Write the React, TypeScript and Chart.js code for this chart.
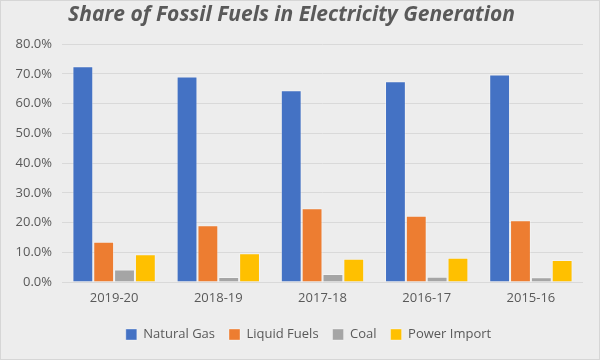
import React, { useEffect, useRef } from "react";
import { Chart, registerables } from "chart.js";

Chart.register(...registerables);

const categories = ["2019-20", "2018-19", "2017-18", "2016-17", "2015-16"];
const naturalGas = [72.6, 69.1, 64.5, 67.5, 69.8];
const liquidFuels = [13.5, 19.1, 24.8, 22.3, 20.8];
const coal = [4.2, 1.7, 2.7, 1.8, 1.6];
const powerImport = [9.3, 9.7, 7.8, 8.2, 7.4];
const seriesNames = ["Natural Gas", "Liquid Fuels", "Coal", "Power Import"];
const seriesColors = ["#4472C4", "#ED7D31", "#A5A5A5", "#FFC000"];
const titleText = "Share of Fossil Fuels in Electricity Generation";

const bgPlugin = {
  id: "bg",
  beforeDraw(chart: any) {
    const { ctx, width, height } = chart;
    ctx.save();
    ctx.fillStyle = "#EDEDED";
    ctx.fillRect(0, 0, width, height);
    ctx.strokeStyle = "#D6D6D6";
    ctx.lineWidth = 1;
    ctx.strokeRect(0.5, 0.5, width - 1, height - 1);
    ctx.restore();
  },
};

const legendShift = {
  id: "legendShift",
  afterLayout(chart: any) {
    const lg = chart.legend;
    if (lg) {
      lg.left += 17;
      lg.right += 17;
    }
  },
};

export default function App() {
  const ref = useRef<HTMLCanvasElement>(null);
  useEffect(() => {
    document.body.style.margin = "0";
    const font = "'Open Sans', sans-serif";
    const values = [naturalGas, liquidFuels, coal, powerImport];
    const chart = new Chart(ref.current!, {
      type: "bar",
      data: {
        labels: categories,
        datasets: seriesNames.map((name, i) => ({
          label: name,
          data: values[i],
          backgroundColor: seriesColors[i],
          borderColor: "rgba(255,255,255,0.35)",
          borderWidth: 1,
          categoryPercentage: 0.8,
          barPercentage: 1,
        })),
      },
      options: {
        animation: false,
        responsive: false,
        layout: { padding: { left: 0, right: 17, top: 0, bottom: 9 } },
        plugins: {
          title: {
            display: true,
            text: titleText,
            color: "#595959",
            font: { family: font, size: 21, weight: "bold", style: "italic" },
            padding: { top: 2, bottom: 17 },
          },
          legend: {
            position: "bottom",
            labels: {
              boxWidth: 11,
              boxHeight: 11,
              padding: 14,
              color: "#595959",
              font: { family: font, size: 13 },
            },
          },
          tooltip: { enabled: false },
        },
        scales: {
          x: {
            grid: { display: false, drawTicks: false },
            border: { display: false },
            ticks: { color: "#595959", font: { family: font, size: 13 }, padding: 8 },
            afterFit: (s: any) => {
              s.height = 32;
            },
          },
          y: {
            min: 0,
            max: 80,
            ticks: {
              stepSize: 10,
              color: "#595959",
              font: { family: font, size: 13 },
              padding: 10,
              callback: (v: any) => Number(v).toFixed(1) + "%",
            },
            grid: { color: "#D9D9D9", lineWidth: 1, drawTicks: false },
            border: { display: false },
            afterFit: (s: any) => {
              s.width = 62;
            },
          },
        },
      },
      plugins: [bgPlugin, legendShift],
    });
    return () => chart.destroy();
  }, []);
  return <canvas ref={ref} width={600} height={360} style={{ display: "block" }} />;
}
